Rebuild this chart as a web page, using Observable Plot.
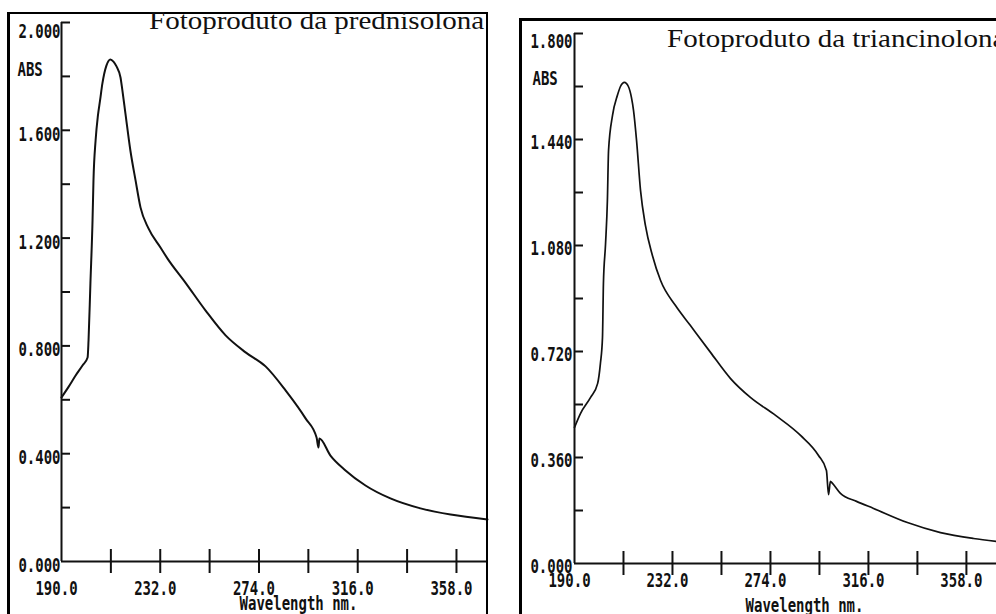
<!DOCTYPE html>
<html>
<head>
<meta charset="utf-8">
<script src="https://cdn.jsdelivr.net/npm/d3@7"></script>
<script src="https://cdn.jsdelivr.net/npm/@observablehq/plot@0.6"></script>
<style>
  html, body { margin: 0; padding: 0; background: #fff; }
  #page { position: relative; width: 996px; height: 614px; overflow: hidden; background: #fff; }
  .panel { position: absolute; top: 0; }
  .frame { position: absolute; border-style: solid; border-color: #000; box-sizing: border-box; }
  .title {
    position: absolute; white-space: nowrap; color: #111;
    font-family: "Liberation Serif", "Times New Roman", serif;
    font-size: 25px; line-height: 25px;
    transform-origin: 0 0; transform: scaleX(1.16);
  }
</style>
</head>
<body>
<div id="page">
  <div id="left" class="panel" style="left:0px"></div>
  <div id="right" class="panel" style="left:500px"></div>
  <div class="frame" style="left:7px;top:12px;width:481px;height:700px;border-width:2.5px 2.5px 0 3px"></div>
  <div class="frame" style="left:519px;top:18px;width:600px;height:700px;border-width:3px 0 0 3px"></div>
  <div class="title" style="left:149px;top:8px">Fotoproduto da prednisolona</div>
  <div class="title" style="left:667px;top:26px">Fotoproduto da triancinolona</div>
</div>
<script>
// Absorption spectrum of the prednisolone photoproduct
const wavelengthPred = [190, 193, 196, 199, 201.1, 201.5, 202.3, 203.2, 203.6, 204.5, 205.5, 206.4, 207.4, 209.1, 210.8, 212.1, 213.4, 215.1, 215.9, 217.2, 219.3, 221.5, 223.6, 227.0, 232.1, 235.1, 242.7, 251.3, 259.8, 268.3, 276.8, 285.3, 293.8, 298.5, 299.3, 299.7, 304.4, 310.8, 319.3, 329.9, 342.7, 355.5, 371.2];
const absPred        = [0.609, 0.648, 0.690, 0.728, 0.757, 0.820, 1.032, 1.265, 1.414, 1.562, 1.655, 1.711, 1.774, 1.840, 1.863, 1.855, 1.837, 1.796, 1.748, 1.662, 1.525, 1.414, 1.314, 1.236, 1.165, 1.124, 1.035, 0.931, 0.839, 0.776, 0.724, 0.635, 0.531, 0.460, 0.423, 0.456, 0.393, 0.338, 0.282, 0.234, 0.197, 0.174, 0.156];

// Absorption spectrum of the triamcinolone photoproduct
const wavelengthTri = [190, 192.6, 196.9, 199.9, 201.1, 202.0, 202.4, 203.3, 204.1, 204.6, 206.3, 208.4, 209.7, 211.4, 213.1, 214.4, 215.3, 216.6, 218.3, 220.4, 223.4, 226.9, 233.3, 239.7, 248.3, 256.9, 265.4, 276.2, 286.9, 294.6, 298.0, 298.9, 299.7, 300.6, 304.0, 310.9, 318.2, 332.7, 346.9, 361.0, 370.9];
const absTri        = [0.462, 0.510, 0.564, 0.611, 0.679, 0.768, 0.951, 1.084, 1.233, 1.403, 1.522, 1.590, 1.620, 1.634, 1.620, 1.583, 1.539, 1.437, 1.267, 1.148, 1.046, 0.961, 0.876, 0.808, 0.717, 0.628, 0.564, 0.503, 0.435, 0.367, 0.316, 0.234, 0.279, 0.272, 0.238, 0.211, 0.187, 0.139, 0.105, 0.085, 0.075];

// Axis ticks and labels
const xTickMarks   = [211, 232, 253, 274, 295, 316, 337, 358];
const xTickLabels  = [190, 232, 274, 316, 358];
const yTicksPred   = [0.2, 0.4, 0.6, 0.8, 1.0, 1.2, 1.4, 1.6, 1.8, 2.0];
const yLabelsPred  = [0, 0.4, 0.8, 1.2, 1.6];
const yTopPred     = [2.0];
const yTicksTri    = [0.18, 0.36, 0.54, 0.72, 0.90, 1.08, 1.26, 1.44, 1.62, 1.80];
const yLabelsTri   = [0, 0.36, 0.72, 1.08, 1.44];
const yTopTri      = [1.8];
const xTitle = "Wavelength nm.";
const yTitle = "ABS";

const MONO = "DejaVu Sans Mono";
const mono = {fontFamily: MONO, fontSize: 14, fontWeight: "bold", fill: "#111"};

function spectrum(o) {
  const rows = o.wl.map((w, i) => ({wl: w, abs: o.abs[i]}));
  const svg = Plot.plot({
    width: o.width, height: 614,
    marginLeft: o.marginLeft, marginRight: 0, marginTop: o.marginTop, marginBottom: o.marginBottom,
    style: {background: "transparent", overflow: "visible"},
    x: {domain: [190, o.xMax]},
    y: {domain: [0, o.yMax]},
    marks: [
      Plot.ruleX([190], {strokeWidth: 2, stroke: "#111"}),
      Plot.ruleY([0], {strokeWidth: 2, stroke: "#111"}),
      Plot.axisY(o.yTicks, {tickSize: -9, strokeWidth: 2, stroke: "#111", tickFormat: () => "", label: null}),
      Plot.axisY(o.yLabels, {...mono, tickSize: 0, tickPadding: o.yPad, dy: o.yDy, tickFormat: (d) => d.toFixed(3), label: null}),
      Plot.axisY(o.yTop, {...mono, tickSize: 0, tickPadding: o.yPad, dy: o.yTopDy, tickFormat: (d) => d.toFixed(3), label: null}),
      Plot.axisX(xTickMarks, {tickSize: 12, strokeWidth: 2, stroke: "#111", tickFormat: () => "", label: null}),
      Plot.axisX(xTickMarks, {tickSize: -12, strokeWidth: 2, stroke: "#111", tickFormat: () => "", label: null}),
      Plot.axisX(xTickLabels, {...mono, tickSize: 0, tickPadding: o.xPad, dx: -5, tickFormat: (d) => d.toFixed(1), label: null}),
      Plot.text([xTitle], {...mono, text: (d) => d, frameAnchor: "bottom", lineAnchor: "top", dx: o.titleDx, dy: 34}),
      Plot.text([yTitle], {...mono, text: (d) => d, frameAnchor: "top-left", textAnchor: "start", lineAnchor: "middle", dx: o.absDx, dy: o.absDy}),
      Plot.line(rows, {x: "wl", y: "abs", curve: "monotone-x", stroke: "#111", strokeWidth: o.lineWidth})
    ]
  });
  // tall, narrow plotter lettering: stretch every monospaced label vertically
  svg.querySelectorAll(`g[font-family="${MONO}"] text`).forEach((t) => {
    t.setAttribute("transform", (t.getAttribute("transform") || "") + " scale(1,1.45)");
  });
  return svg;
}

document.getElementById("left").append(spectrum({
  wl: wavelengthPred, abs: absPred, width: 487, xMax: 371.2, yMax: 2.0, lineWidth: 2,
  marginLeft: 61, marginTop: 22, marginBottom: 53,
  yTicks: yTicksPred, yLabels: yLabelsPred, yTop: yTopPred,
  yPad: 1, yDy: 4, yTopDy: 9, xPad: 19, titleDx: 24, absDx: -44, absDy: 47
}));

document.getElementById("right").append(spectrum({
  wl: wavelengthTri, abs: absTri, width: 496, xMax: 370.9, yMax: 1.8, lineWidth: 1.7,
  marginLeft: 74, marginTop: 33, marginBottom: 51,
  yTicks: yTicksTri, yLabels: yLabelsTri, yTop: yTopTri,
  yPad: 2, yDy: 3, yTopDy: 8, xPad: 9, titleDx: 19, absDx: -42, absDy: 45
}));
</script>
</body>
</html>
